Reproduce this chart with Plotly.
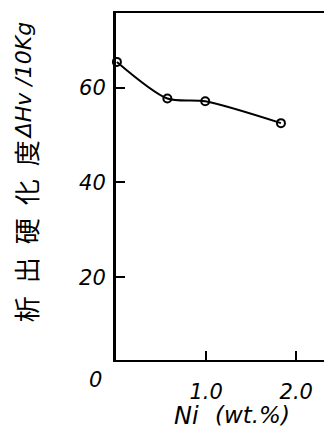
import plotly.graph_objects as go

ni = [0.01, 0.57, 0.99, 1.83]
hardness = [65.4, 57.7, 57.1, 52.5]
x_ticks = [1.0, 2.0]
x_tick_labels = ["1.0", "2.0"]
y_ticks = [20, 40, 60]
y_tick_labels = ["20", "40", "60"]

fig = go.Figure()
fig.add_trace(go.Scatter(
    x=ni, y=hardness, mode="lines+markers",
    line=dict(color="black", width=2, shape="spline", smoothing=0.8),
    marker=dict(symbol="circle-open", size=8, color="black", line=dict(width=2)),
    showlegend=False, cliponaxis=False,
))

font_tick = dict(family="DejaVu Sans", size=21, color="black")
# page body has a default 8px margin, so the figure is 8px smaller and offset
fig.update_layout(
    width=324, height=422,
    margin=dict(l=108, r=3, t=3, b=70),
    paper_bgcolor="white", plot_bgcolor="white",
    xaxis=dict(range=[0, 2.33], showgrid=False, zeroline=False,
               showline=True, linecolor="black", linewidth=2, mirror=True,
               ticks="inside", ticklen=9, tickwidth=2, tickcolor="black",
               tickvals=x_ticks, ticktext=[f"<i>{t}</i>" for t in x_tick_labels],
               tickfont=font_tick, ticklabelstandoff=12),
    yaxis=dict(range=[2.6, 75.7], showgrid=False, zeroline=False,
               showline=True, linecolor="black", linewidth=3, mirror=True,
               ticks="inside", ticklen=9, tickwidth=2, tickcolor="black",
               tickvals=y_ticks, ticktext=[f"<i>{t}</i>" for t in y_tick_labels],
               tickfont=font_tick, ticklabelstandoff=3),
)
fig.add_annotation(text="<i>0</i>", xref="paper", yref="paper", x=-0.099, y=-0.057,
                   showarrow=False, font=font_tick, xanchor="center", yanchor="middle")
fig.add_annotation(text="<i>Ni</i>", xref="paper", yref="paper", x=0.335, y=-0.16,
                   showarrow=False, font=dict(family="DejaVu Sans", size=24, color="black"),
                   xanchor="center", yanchor="middle")
fig.add_annotation(text="<i>(wt.%)</i>", xref="paper", yref="paper", x=0.652, y=-0.158,
                   showarrow=False, font=dict(family="DejaVu Sans", size=23, color="black"),
                   xanchor="center", yanchor="middle")
fig.add_annotation(text="析\u2002出\u2002硬\u2002化\u2002度", xref="paper", yref="paper",
                   x=-0.43, y=0.37, textangle=-90, showarrow=False,
                   font=dict(family="Noto Sans CJK JP", size=26, color="black"),
                   xanchor="center", yanchor="middle")
fig.add_annotation(text="<i>ΔHv /10Kg</i>", xref="paper", yref="paper",
                   x=-0.44, y=0.805, textangle=-90, showarrow=False,
                   font=dict(family="DejaVu Sans", size=22, color="black"),
                   xanchor="center", yanchor="middle")
fig.write_html("out.html")
